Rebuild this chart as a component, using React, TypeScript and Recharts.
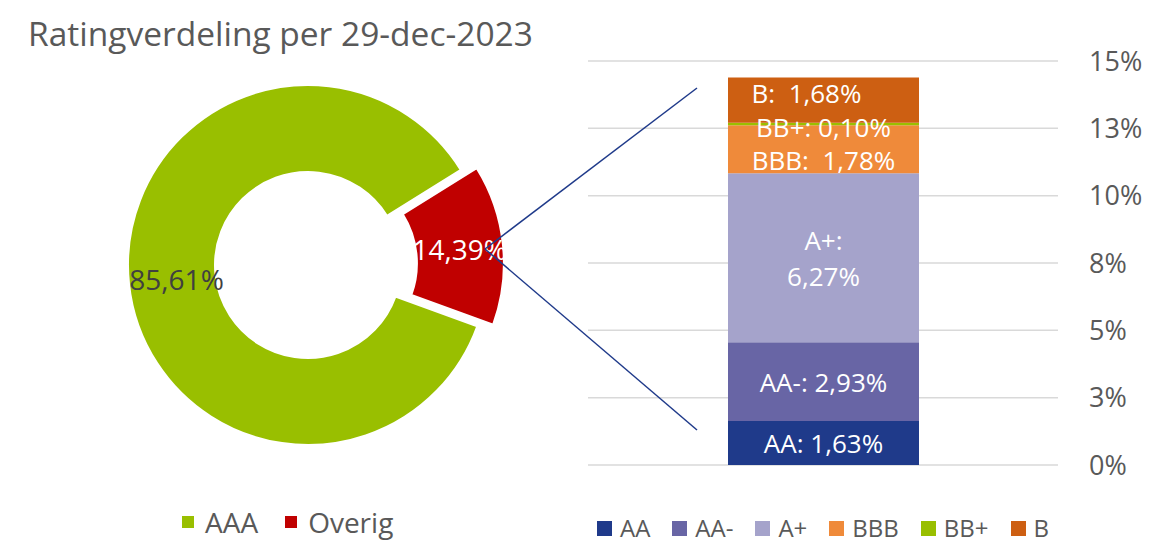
import React from "react";
import { PieChart, Pie, Cell, BarChart, Bar, XAxis, YAxis, CartesianGrid, LabelList } from "recharts";

// donut: AAA vs the rest
const pieNames = ["AAA", "Overig"];
const pieValues = [85.61, 14.39];
const pieColors = ["#99BF00", "#C00000"];

// breakdown of "Overig"
const ratingNames = ["AA", "AA-", "A+", "BBB", "BB+", "B"];
const ratingValues = [1.63, 2.93, 6.27, 1.78, 0.1, 1.68];
const ratingColors = ["#1F3A8A", "#6865A5", "#A5A3CB", "#EF8A3A", "#99BF00", "#CD5F12"];
const ratingSeparators = [": ", ": ", ":\n", ":  ", ": ", ":  "];

const yTicks = [0, 2.5, 5, 7.5, 10, 12.5, 15];

const TITLE = "Ratingverdeling per 29-dec-2023";
const FONT = "'Open Sans', sans-serif";
const TEXT = "#595959";
const RADIAN = Math.PI / 180;

// layout
const PIE_CX = 303;
const PIE_CY = 260;
const RED_MID_ANGLE = 6;
const EXPLODE = 16;
const labelShift: Record<string, [number, number]> = { BBB: [0, 11], "BB+": [0, 3], B: [-17, -7] };

const fmt = (v: number) => v.toFixed(2).replace(".", ",") + "%";

const pieData = pieNames.map((name, i) => ({ name, value: pieValues[i] }));
const barRow: Record<string, number | string> = { cat: "Overig" };
ratingNames.forEach((n, i) => (barRow[n] = ratingValues[i]));
const barData = [barRow];

const startAngle = RED_MID_ANGLE + (pieValues[1] / 100) * 180;

const pieLabel = (show: number, color: string, pos: number) => (p: any) => {
  if (p.index !== show) return null;
  const r = p.innerRadius + (p.outerRadius - p.innerRadius) * pos;
  const x = p.cx + r * Math.cos(-p.midAngle * RADIAN);
  const y = p.cy + r * Math.sin(-p.midAngle * RADIAN);
  return (
    <text x={x} y={y} fill={color} textAnchor="middle" dominantBaseline="central" fontSize={28} fontFamily={FONT}>
      {fmt(p.value)}
    </text>
  );
};

const barLabel = (i: number) => (p: any) => {
  const name = ratingNames[i];
  const [dx, dy] = labelShift[name] || [0, 0];
  const cx = p.x + p.width / 2 + dx;
  const cy = p.y + p.height / 2 + dy;
  const lines = (name + ratingSeparators[i] + fmt(ratingValues[i])).split("\n");
  const lh = 36;
  return (
    <text x={cx} y={cy} fill="#fff" textAnchor="middle" fontSize={26} fontFamily={FONT} style={{ whiteSpace: "pre" }}>
      {lines.map((l, k) => (
        <tspan key={k} x={cx} y={cy + (k - (lines.length - 1) / 2) * lh} dominantBaseline="central">
          {l}
        </tspan>
      ))}
    </text>
  );
};

function LegendRow({ names, colors, left, top, box, size, gap, inner }: any) {
  return (
    <div style={{ position: "absolute", left, top, display: "flex", alignItems: "center", gap, fontSize: size, color: TEXT, lineHeight: 1 }}>
      {names.map((n: string, i: number) => (
        <div key={n} style={{ display: "flex", alignItems: "center", gap: inner }}>
          <span style={{ width: box, height: box, background: colors[i], display: "inline-block" }} />
          <span>{n}</span>
        </div>
      ))}
    </div>
  );
}

export default function App() {
  const ex = EXPLODE * Math.cos(RED_MID_ANGLE * RADIAN);
  const ey = -EXPLODE * Math.sin(RED_MID_ANGLE * RADIAN);
  return (
    <div style={{ position: "absolute", left: 0, top: 0, width: 1158, height: 543, background: "#fff", fontFamily: FONT, overflow: "hidden" }}>
      <div style={{ position: "absolute", left: 0, top: 0 }}>
        <PieChart width={560} height={500}>
          <Pie
            data={pieData}
            dataKey="value"
            cx={PIE_CX}
            cy={PIE_CY}
            innerRadius={93}
            outerRadius={180}
            startAngle={startAngle}
            endAngle={startAngle + 360}
            stroke="#fff"
            strokeWidth={2}
            label={pieLabel(0, "#404040", 0.45)}
            labelLine={false}
            isAnimationActive={false}
          >
            {pieData.map((d, i) => (
              <Cell key={d.name} fill={i === 0 ? pieColors[i] : "none"} stroke={i === 0 ? "#fff" : "none"} />
            ))}
          </Pie>
          <Pie
            data={pieData}
            dataKey="value"
            cx={PIE_CX + ex}
            cy={PIE_CY + ey}
            innerRadius={93}
            outerRadius={180}
            startAngle={startAngle}
            endAngle={startAngle + 360}
            stroke="#fff"
            strokeWidth={2}
            label={pieLabel(1, "#fff", 0.5)}
            labelLine={false}
            isAnimationActive={false}
          >
            {pieData.map((d, i) => (
              <Cell key={d.name} fill={i === 1 ? pieColors[i] : "none"} stroke={i === 1 ? "#fff" : "none"} />
            ))}
          </Pie>
        </PieChart>
      </div>

      <div style={{ position: "absolute", left: 560, top: 0 }}>
        <BarChart width={598} height={543} data={barData} margin={{ top: 61, right: 0, bottom: 78, left: 28 }}>
          <CartesianGrid vertical={false} stroke="#D9D9D9" strokeWidth={1.5} />
          <XAxis dataKey="cat" hide />
          <YAxis
            orientation="right"
            width={100}
            domain={[0, 15]}
            ticks={yTicks}
            axisLine={false}
            tickLine={false}
            tickSize={0}
            tickMargin={31}
            tick={{ fill: TEXT, fontSize: 27 }}
            tickFormatter={(v: number) => Math.round(v) + "%"}
          />
          {ratingNames.map((n, i) => (
            <Bar key={n} dataKey={n} stackId="r" fill={ratingColors[i]} barSize={191} isAnimationActive={false}>
              <LabelList dataKey={n} content={barLabel(i)} />
            </Bar>
          ))}
        </BarChart>
      </div>

      <svg width={1158} height={543} style={{ position: "absolute", left: 0, top: 0, pointerEvents: "none" }}>
        <text x={28} y={46} fontSize={33.5} fill={TEXT} fontFamily={FONT}>
          {TITLE}
        </text>
        <line x1={485} y1={249} x2={697} y2={88} stroke="#1F3A8A" strokeWidth={1.5} />
        <line x1={485} y1={249} x2={697} y2={430} stroke="#1F3A8A" strokeWidth={1.5} />
      </svg>

      <LegendRow names={pieNames} colors={pieColors} left={182} top={508} box={12} size={28} gap={27} inner={11} />
      <LegendRow names={ratingNames} colors={ratingColors} left={597} top={516} box={15} size={24} gap={22} inner={8} />
    </div>
  );
}
